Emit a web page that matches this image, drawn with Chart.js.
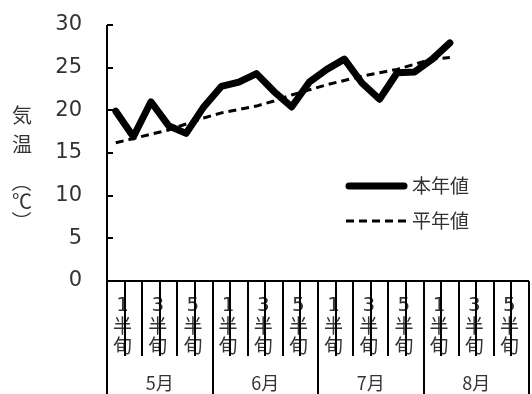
<!DOCTYPE html>
<html><head><meta charset="utf-8">
<script src="https://cdn.jsdelivr.net/npm/chart.js@4.4.1/dist/chart.umd.min.js"></script>
<style>html,body{margin:0;padding:0;background:#fff}#wrap{width:532px;height:394px}</style>
</head><body><div id="wrap"><canvas id="c" width="532" height="394"></canvas></div>
<script>
const months = ['5月','6月','7月','8月'];
const halfLabels = ['1半旬','','3半旬','','5半旬',''];
const thisYear = [19.9,16.9,21.0,18.2,17.3,20.4,22.8,23.3,24.3,22.2,20.4,23.3,24.8,26.0,23.2,21.3,24.4,24.5,26.0,27.9];
const normal = [16.2,16.7,17.2,17.7,18.4,19.1,19.7,20.1,20.5,21.1,21.8,22.4,23.0,23.5,24.0,24.4,24.8,25.4,26.0,26.2];
const seriesNames = ['本年値','平年値'];
const yTitle = '気温（℃）';
const yTicks = [0,5,10,15,20,25,30];

const categories = [];
months.forEach(m => halfLabels.forEach((h,i) => categories.push(m + (i+1))));

const JP = "'Noto Sans CJK JP', sans-serif";
const NUM = "'DejaVu Sans', sans-serif";
const TXT = '#333';

const deco = {
  id: 'deco',
  afterDatasetsDraw(chart) {
    const ctx = chart.ctx, x = chart.scales.x, y = chart.scales.y, ca = chart.chartArea;
    const n = categories.length;
    const step = x.getPixelForValue(1) - x.getPixelForValue(0);
    const bottom = chart.height;
    ctx.save();
    ctx.fillStyle = TXT;
    ctx.textAlign = 'center'; ctx.textBaseline = 'middle';
    for (let i = 0; i < n; i++) {
      const lab = halfLabels[i % halfLabels.length];
      if (!lab) continue;
      const cx = x.getPixelForValue(i) + step / 2 - 2;
      [...lab].forEach((ch, k) => {
        ctx.font = (k === 0 ? "20px " + NUM : "19px " + JP);
        ctx.fillText(ch, cx, 306 + k * 20);
      });
    }
    ctx.font = "18px " + JP;
    months.forEach((m, mi) => {
      const c0 = x.getPixelForValue(mi * 6) - step / 2;
      const c1 = x.getPixelForValue(mi * 6 + 5) + step / 2;
      ctx.fillText(m, (c0 + c1) / 2, 383);
    });
    ctx.strokeStyle = '#000'; ctx.lineWidth = 2;
    ctx.beginPath();
    for (let i = 0; i <= n; i++) {
      const bx = Math.round(x.getPixelForValue(i) - step / 2);
      const isMonth = i % 6 === 0;
      ctx.moveTo(bx, ca.bottom);
      ctx.lineTo(bx, isMonth ? bottom : 356);
    }
    ctx.moveTo(ca.left, ca.top); ctx.lineTo(ca.left, bottom);
    yTicks.forEach(v => { const py = Math.round(y.getPixelForValue(v)); ctx.moveTo(ca.left, py); ctx.lineTo(ca.left + 6, py); });
    ctx.moveTo(ca.left, ca.bottom); ctx.lineTo(ca.right, ca.bottom);
    ctx.stroke();
    ctx.font = "20px " + JP;
    const ys = [115, 144, 182, 201, 221];
    [...yTitle].forEach((ch, k) => {
      if (ch === '（' || ch === '）') {
        ctx.save(); ctx.translate(22, ys[k]); ctx.rotate(Math.PI / 2); ctx.fillText(ch, 0, 0); ctx.restore();
      } else ctx.fillText(ch, 22, ys[k]);
    });
    ctx.font = "19px " + JP; ctx.textAlign = 'left';
    chart.data.datasets.forEach((ds, k) => {
      const ly = 186 + k * 35;
      ctx.beginPath();
      ctx.lineWidth = ds.borderWidth; ctx.setLineDash(ds.borderDash || []);
      ctx.lineCap = k === 0 ? 'round' : 'butt';
      ctx.moveTo(k === 0 ? 349 : 346, ly); ctx.lineTo(k === 0 ? 404 : 407, ly); ctx.stroke();
      ctx.setLineDash([]);
      ctx.fillText(ds.label, 412, ly);
    });
    ctx.restore();
  }
};

new Chart(document.getElementById('c'), {
  type: 'line',
  data: {
    labels: categories,
    datasets: [
      { label: seriesNames[0], data: thisYear, borderColor: '#000', borderWidth: 7, pointRadius: 0, tension: 0, borderJoinStyle: 'round', borderCapStyle: 'round' },
      { label: seriesNames[1], data: normal, borderColor: '#000', borderWidth: 3, borderDash: [8, 5], pointRadius: 0, tension: 0 }
    ]
  },
  options: {
    responsive: false, animation: false, devicePixelRatio: 1,
    layout: { padding: { top: 25, right: 3, left: 0, bottom: 0 } },
    plugins: { legend: { display: false }, tooltip: { enabled: false } },
    scales: {
      x: {
        type: 'category', offset: true,
        grid: { display: false }, border: { display: false },
        ticks: { display: false },
        afterFit: s => { s.height = 113; s.paddingLeft = 0; s.paddingRight = 0; }
      },
      y: {
        min: 0, max: 30,
        afterBuildTicks: s => { s.ticks = yTicks.map(v => ({ value: v })); },
        grid: { display: false, drawTicks: false }, border: { display: false },
        ticks: { padding: 25, color: TXT, font: { family: NUM, size: 21 } },
        afterFit: s => { s.width = 107; s.paddingTop = 0; s.paddingBottom = 0; }
      }
    }
  },
  plugins: [deco]
});
</script></body></html>
